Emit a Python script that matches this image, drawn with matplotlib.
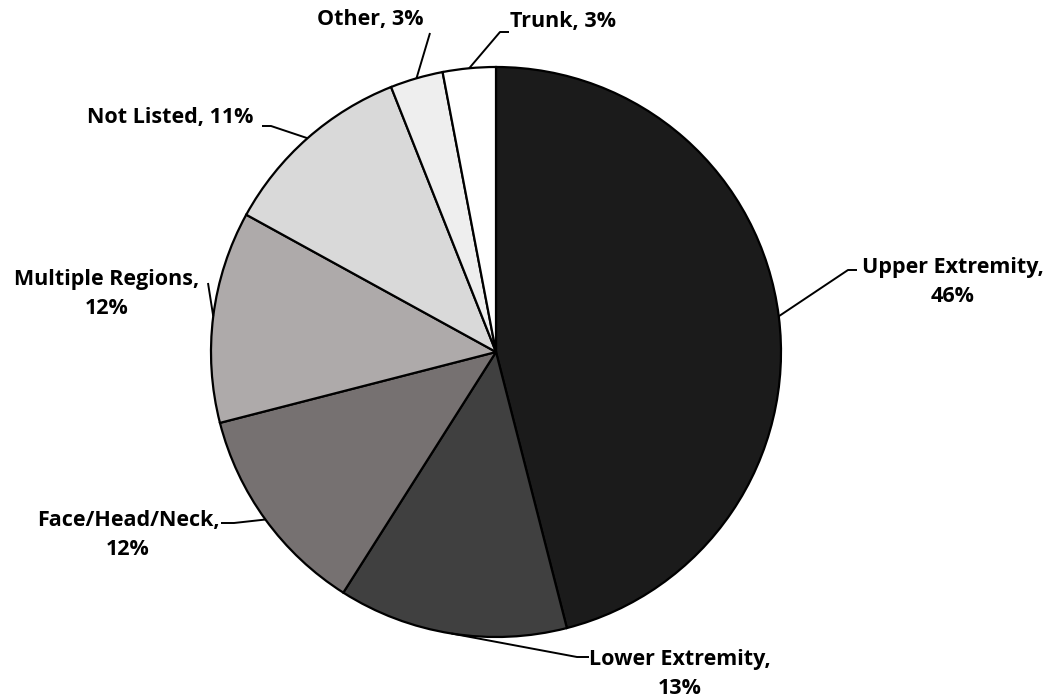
import matplotlib.pyplot as plt
import numpy as np

plt.rcParams['font.family'] = ['Open Sans', 'DejaVu Sans']

regions = ["Upper Extremity", "Lower Extremity", "Face/Head/Neck",
           "Multiple Regions", "Not Listed", "Other", "Trunk"]
shares = [46, 13, 12, 12, 11, 3, 3]
colors = ["#1b1b1b", "#404040", "#767171", "#aeaaaa", "#d9d9d9", "#eeeeee", "#ffffff"]

# label text centre, elbow point and end of the short horizontal stub (pixel coords)
label_pos = [(953, 282), (680, 674), (128, 535), (107, 294), (170, 118), (370, 20), (563, 22)]
elbows = [(848, 270), (577, 657), (234, 523), (208, 283), (271, 126), (430, 33), (500, 32)]
stubs = [(857, 270), (589, 657), (221, 523), (208, 283), (262, 126), (430, 33), (509, 32)]
two_line = [True, True, True, True, False, False, False]

W, H = 1055, 698
cx, cy, R = 496, 352, 285


def to_data(p):
    return (p[0] - cx) / R, (cy - p[1]) / R


fig = plt.figure(figsize=(W / 100, H / 100), dpi=100)
ax = fig.add_axes([0, 0, 1, 1])
ax.pie(shares, colors=colors, startangle=90, counterclock=False,
       wedgeprops=dict(edgecolor="black", linewidth=1.6))
ax.set_xlim(-cx / R, (W - cx) / R)
ax.set_ylim((cy - H) / R, cy / R)
ax.set_aspect("auto")
ax.axis("off")

cum = np.cumsum([0] + shares[:-1])
total = sum(shares)
for i, name in enumerate(regions):
    mid = (cum[i] + shares[i] / 2) / total * 2 * np.pi
    edge = (np.sin(mid), np.cos(mid))
    e = to_data(elbows[i])
    s = to_data(stubs[i])
    ax.plot([edge[0], e[0], s[0]], [edge[1], e[1], s[1]], color="black", lw=1.4,
            solid_capstyle="butt", zorder=3)
    if two_line[i]:
        txt = f"{name},\n{shares[i]}%"
    else:
        txt = f"{name}, {shares[i]}%"
    tx, ty = to_data(label_pos[i])
    ax.text(tx, ty, txt, ha="center", va="center", fontsize=15.5, fontweight="bold",
            linespacing=1.55)

fig.savefig("out.png", dpi=100)
